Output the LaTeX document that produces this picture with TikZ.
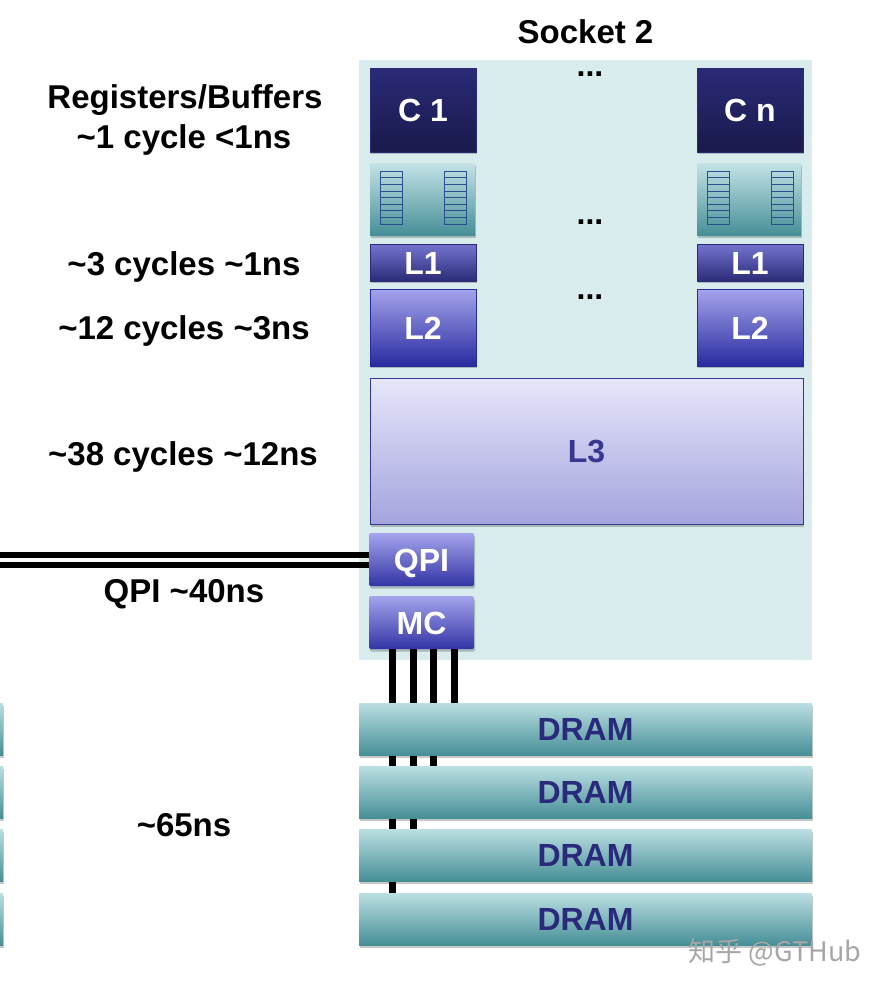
\documentclass[tikz,border=0pt]{standalone}
\usepackage{fontspec}
\setmainfont{Liberation Sans}
\newfontfamily\cjk{Noto Sans CJK SC}
\usetikzlibrary{backgrounds,shadows}
\tikzset{
    softshadow/.style={general shadow={fill=black,opacity=.22,shadow xshift=1pt,shadow yshift=-2.5pt}},
    boxtext/.style={font=\fontsize{32}{36}\selectfont\bfseries,text=white,inner sep=0pt,text height=23pt,text depth=0pt},
    corebox/.style={boxtext,softshadow,minimum width=105.5pt,minimum height=83.5pt,draw=lonelo,line width=.5pt,top color=corehi,bottom color=corelo},
    bufbox/.style={softshadow,inner sep=0pt,minimum height=72pt,top color=tealtop,middle color=tealmid,bottom color=teallo},
    lonebox/.style={boxtext,softshadow,minimum width=105.5pt,minimum height=36.5pt,draw=lonelo,line width=.5pt,top color=lonehi,bottom color=lonelo},
    ltwobox/.style={boxtext,softshadow,minimum width=105.5pt,minimum height=76.5pt,draw=ltwolo,line width=.5pt,top color=ltwohi,bottom color=ltwolo},
    lthreebox/.style={boxtext,softshadow,text=lthreetext,minimum width=433pt,minimum height=146pt,draw=lthreetext,line width=.8pt,top color=lthreehi,bottom color=lthreelo},
    linkbox/.style={boxtext,softshadow,minimum width=105pt,minimum height=53pt,rounded corners=1.5pt,top color=ltwohi,middle color=linkmid,bottom color=linklo},
    drambox/.style={boxtext,softshadow,text=dramtext,minimum width=453pt,minimum height=52pt,top color=tealhi,middle color=tealmid,bottom color=teallo},
    latency/.style={font=\fontsize{33}{36}\selectfont\bfseries,inner sep=0pt,text height=23.5pt,text depth=0pt},
    dotsrow/.style={font=\fontsize{32}{36}\selectfont\bfseries,inner sep=0pt,text height=4.5pt,text depth=0pt},
    qpiline/.style={black,line width=6pt},
    memline/.style={black,line width=7pt},
    bufstack/.pic={
        \draw [y=1pt,stackblue,line width=1pt,xstep=40,ystep=6.66] (0,0) grid (22,53.3);
        \draw [y=1pt,stackblue,line width=1pt] (0,0) rectangle (22,53.3);
    }
}
\definecolor{panelbg}{HTML}{D8EBED}
\definecolor{corehi}{HTML}{2A2A78}
\definecolor{corelo}{HTML}{1A1A4C}
\definecolor{tealtop}{HTML}{C4E3E6}
\definecolor{tealhi}{HTML}{BBDFE2}
\definecolor{tealmid}{HTML}{74BEC2}
\definecolor{teallo}{HTML}{468F97}
\definecolor{stackblue}{HTML}{2A4F8F}
\definecolor{lonehi}{HTML}{7474D0}
\definecolor{lonelo}{HTML}{2B2B78}
\definecolor{ltwohi}{HTML}{A4A4EC}
\definecolor{ltwolo}{HTML}{2A2AA0}
\definecolor{lthreehi}{HTML}{E6E6FA}
\definecolor{lthreelo}{HTML}{A4A4DE}
\definecolor{lthreetext}{HTML}{37378F}
\definecolor{linkmid}{HTML}{7070D8}
\definecolor{linklo}{HTML}{3434A6}
\definecolor{dramtext}{HTML}{2A2A7C}
\begin{document}
\begin{tikzpicture}[x=1pt,y=-1pt]
    \useasboundingbox (0,0) rectangle (886,990);
    % socket 2
    \node [latency] (socket) at (585.5,32) {Socket 2};
    \node [latency] (regs) at (185,97) {Registers/Buffers};
    \node [latency] (regstime) at (184,137) {\textasciitilde1 cycle <1ns};
    \node [latency] (lonetime) at (184,264) {\textasciitilde3 cycles \textasciitilde1ns};
    \node [latency] (ltwotime) at (184,328) {\textasciitilde12 cycles \textasciitilde3ns};
    \node [latency] (lthreetime) at (183,454) {\textasciitilde38 cycles \textasciitilde12ns};
    \node [latency] (qpitime) at (184,591) {QPI \textasciitilde40ns};
    \node [latency] (dramtime) at (184,825) {\textasciitilde65ns};
    % cores
    \node [corebox] (coreone) at (423,110) {C 1};
    \node [corebox] (coren) at (750,110) {C n};
    \node [bufbox,minimum width=105pt] (bufone) at (422.5,199) {};
    \node [bufbox,minimum width=104pt] (bufn) at (749,199) {};
    \pic at (380,224.3) {bufstack};
    \pic at (444,224.3) {bufstack};
    \pic at (707,224.3) {bufstack};
    \pic at (771,224.3) {bufstack};
    \node [lonebox] (loneone) at (423,262.5) {L1};
    \node [lonebox] (lonen) at (750,262.5) {L1};
    \node [ltwobox] (ltwoone) at (423,327.5) {L2};
    \node [ltwobox] (ltwon) at (750,327.5) {L2};
    \node [dotsrow] (dotscore) at (590,74) {...};
    \node [dotsrow] (dotsbuf) at (590,222) {...};
    \node [dotsrow] (dotscache) at (590,297.5) {...};
    \node [lthreebox] (lthree) at (586.5,451) {L3};
    \node [linkbox] (qpi) at (421.5,559.5) {QPI};
    \node [linkbox] (mc) at (421.5,622.5) {MC};
    % memory
    \node [drambox] (drama) at (585.5,729) {DRAM};
    \node [drambox] (dramb) at (585.5,792) {DRAM};
    \node [drambox] (dramc) at (585.5,855) {DRAM};
    \node [drambox] (dramd) at (585.5,919) {DRAM};
    % socket 1 just shows at the edge
    \node [drambox,minimum width=46pt] (stuba) at (-20,729) {};
    \node [drambox,minimum width=46pt] (stubb) at (-20,792) {};
    \node [drambox,minimum width=46pt] (stubc) at (-20,855) {};
    \node [drambox,minimum width=46pt] (stubd) at (-20,919) {};
    \coordinate (qpiouta) at (0,555);
    \coordinate (qpioutb) at (0,565);
    \begin{scope}[on background layer]
    \fill [panelbg] (359,60) rectangle (812,660);
    \draw [qpiline] (qpiouta) -- (qpiouta -| qpi.west);
    \draw [qpiline] (qpioutb) -- (qpioutb -| qpi.west);
    \draw [memline] (392,0 |- mc.south) -- (392,0 |- dramd.north);
    \draw [memline] (413,0 |- mc.south) -- (413,0 |- dramc.north);
    \draw [memline] (433.5,0 |- mc.south) -- (433.5,0 |- dramb.north);
    \draw [memline] (454,0 |- mc.south) -- (454,0 |- drama.north);
    \end{scope}
    \node [font=\fontsize{27}{32}\selectfont\cjk,text=black!35,inner sep=0pt] (mark) at (775,952) {知乎 @GTHub};
\end{tikzpicture}
\end{document}
